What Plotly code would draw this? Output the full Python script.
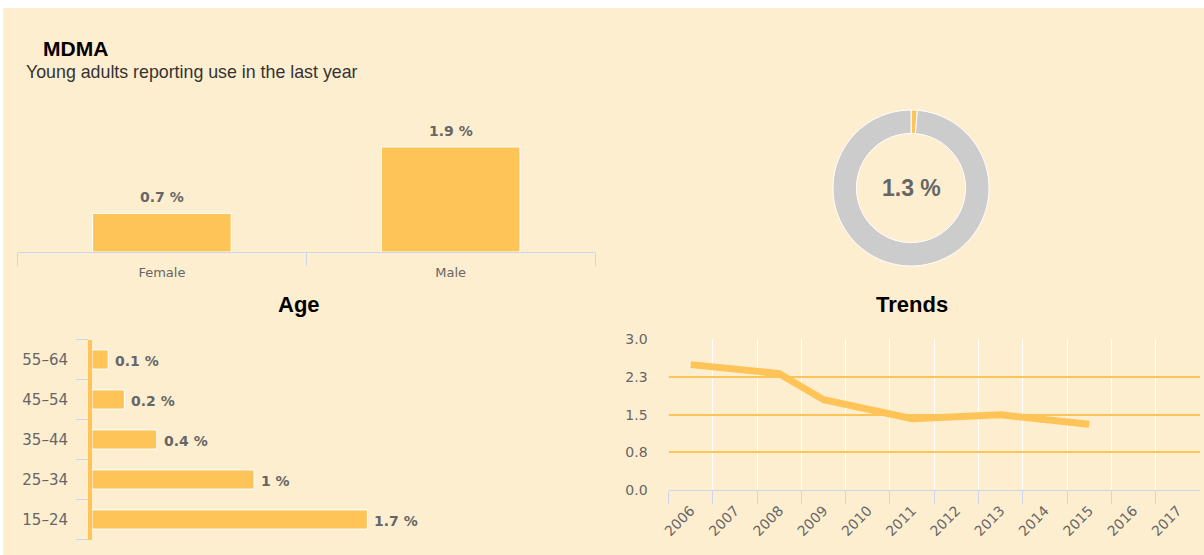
import plotly.graph_objects as go

# ---------------- data ----------------
gender_cats = ["Female", "Male"]
gender_vals = [0.7, 1.9]

age_cats = ["15–24", "25–34", "35–44", "45–54", "55–64"]
age_vals = [1.7, 1.0, 0.4, 0.2, 0.1]

donut_labels = ["Use", "No use"]
donut_vals = [1.3, 98.7]
donut_text = "1.3 %"

trend_years = ["2006", "2007", "2008", "2009", "2010", "2011",
               "2012", "2013", "2014", "2015", "2016", "2017"]
trend_vals = [2.5, None, 2.32, 1.8, None, 1.42, None, 1.5, None, 1.31, None, None]

trend_tickvals = [0, 0.75, 1.5, 2.25, 3.0]
trend_ticktext = ["0.0", "0.8", "1.5", "2.3", "3.0"]

title_text = "MDMA"
subtitle_text = "Young adults reporting use in the last year"

# ---------------- styles ----------------
W, H = 1204, 555
BG = "#FEEED0"
BAR = "#FFC457"
GREY_TXT = "#666666"
AXIS = "#CCD6EB"
TICK_FONT = dict(family="DejaVu Sans", size=13, color=GREY_TXT)
TREND_TICK_FONT = dict(family="DejaVu Sans", size=14, color=GREY_TXT)
LABEL_FONT = dict(family="DejaVu Sans", size=14, color=GREY_TXT)


def px_x(v):
    return v / W


def px_y(v):
    return (H - v) / H


fig = go.Figure()

# gender bars
fig.add_trace(go.Bar(
    x=gender_cats, y=gender_vals, xaxis="x", yaxis="y",
    marker=dict(color=BAR, line=dict(color="white", width=1)),
    width=0.48, hoverinfo="x+y", showlegend=False,
))

# age bars
fig.add_trace(go.Bar(
    x=age_vals, y=age_cats, orientation="h", xaxis="x2", yaxis="y2",
    marker=dict(color=BAR, line=dict(color="white", width=1)),
    width=0.48, hoverinfo="x+y", showlegend=False,
))

# trend line
fig.add_trace(go.Scatter(
    x=trend_years, y=trend_vals, xaxis="x3", yaxis="y3", mode="lines",
    connectgaps=True, line=dict(color=BAR, width=7),
    showlegend=False,
))

# donut
fig.add_trace(go.Pie(
    labels=donut_labels, values=donut_vals, hole=0.70, sort=False,
    direction="clockwise", rotation=0, textinfo="none",
    marker=dict(colors=[BAR, "#CCCCCC"], line=dict(color="white", width=1)),
    domain=dict(x=[px_x(833), px_x(989)], y=[px_y(266), px_y(110)]),
    showlegend=False,
))

annotations = []
# titles
annotations.append(dict(text=f"<b>{title_text}</b>", x=px_x(41), y=px_y(48),
                        xref="paper", yref="paper", xanchor="left", yanchor="middle",
                        showarrow=False, font=dict(family="Liberation Sans", size=21, color="#000")))
annotations.append(dict(text=subtitle_text, x=px_x(24), y=px_y(72),
                        xref="paper", yref="paper", xanchor="left", yanchor="middle",
                        showarrow=False, font=dict(family="Liberation Sans", size=17.8, color="#333")))
annotations.append(dict(text="<b>Age</b>", x=px_x(299), y=px_y(304),
                        xref="paper", yref="paper", xanchor="center", yanchor="middle",
                        showarrow=False, font=dict(family="Liberation Sans", size=22, color="#000")))
annotations.append(dict(text="<b>Trends</b>", x=px_x(912), y=px_y(304),
                        xref="paper", yref="paper", xanchor="center", yanchor="middle",
                        showarrow=False, font=dict(family="Liberation Sans", size=22, color="#000")))
annotations.append(dict(text=f"<b>{donut_text}</b>", x=px_x(911), y=px_y(188),
                        xref="paper", yref="paper", xanchor="center", yanchor="middle",
                        showarrow=False, font=dict(family="Liberation Sans", size=23, color=GREY_TXT)))

# value labels
for c, v in zip(gender_cats, gender_vals):
    annotations.append(dict(text=f"<b>{v:g} %</b>", x=c, y=v, xref="x", yref="y",
                            xanchor="center", yanchor="middle", yshift=16, showarrow=False,
                            font=LABEL_FONT))
for c, v in zip(age_cats, age_vals):
    annotations.append(dict(text=f"<b>{v:g} %</b>", x=v, y=c, xref="x2", yref="y2",
                            xanchor="left", yanchor="middle", xshift=5, yshift=-1,
                            showarrow=False, font=LABEL_FONT))

fig.update_layout(
    width=W, height=H,
    autosize=False,
    margin=dict(l=0, r=0, t=0, b=0, pad=0, autoexpand=False),
    paper_bgcolor="white",
    plot_bgcolor="rgba(0,0,0,0)",
    bargap=0.5,
    annotations=annotations,
    shapes=[dict(type="rect", xref="paper", yref="paper", x0=px_x(3), x1=1,
                 y0=0, y1=px_y(8), fillcolor=BG, line=dict(width=0), layer="below")],
    # gender chart
    xaxis=dict(domain=[px_x(17.5), px_x(595)], anchor="y", showline=True,
               linecolor=AXIS, linewidth=1, ticks="outside", tickson="boundaries",
               ticklen=13, tickcolor=AXIS, tickfont=TICK_FONT, showgrid=False,
               ticklabelstandoff=8, automargin=False, fixedrange=True),
    yaxis=dict(domain=[px_y(252), px_y(119.3)], anchor="x", range=[0, 2.4],
               visible=False, showgrid=False, zeroline=False, automargin=False,
               fixedrange=True),
    # age chart
    xaxis2=dict(domain=[px_x(92), px_x(578)], anchor="y2", range=[0, 3],
                visible=False, showgrid=False, zeroline=False, automargin=False,
                fixedrange=True),
    yaxis2=dict(domain=[px_y(539.5), px_y(339.5)], anchor="x2", showline=True,
                linecolor=BAR, linewidth=4, ticks="outside", tickson="boundaries",
                ticklen=12, tickcolor=AXIS, tickfont=dict(family="DejaVu Sans", size=15, color=GREY_TXT),
                ticklabelstandoff=17, showgrid=False, automargin=False, fixedrange=True),
    # trend chart
    xaxis3=dict(domain=[px_x(668.6), px_x(1199.8)], anchor="y3", showline=True,
                range=[-0.5, 11.5],
                linecolor=AXIS, linewidth=1, ticks="outside", tickson="boundaries",
                ticklen=13, tickcolor=AXIS, tickangle=-45, tickfont=TREND_TICK_FONT,
                ticklabelstandoff=6,
                showgrid=True, gridcolor="white", gridwidth=1, automargin=False,
                fixedrange=True),
    yaxis3=dict(domain=[px_y(490), px_y(339.3)], anchor="x3", range=[0, 3.005],
                tickvals=trend_tickvals, ticktext=trend_ticktext, tickfont=TREND_TICK_FONT,
                showgrid=True, gridcolor=BAR, gridwidth=1.5, zeroline=False,
                ticklabelstandoff=20, automargin=False, fixedrange=True),
)

fig.write_html(
    "out.html",
    config={"displayModeBar": False},
    post_script="document.body.style.margin='0';document.body.style.overflow='hidden';",
)
